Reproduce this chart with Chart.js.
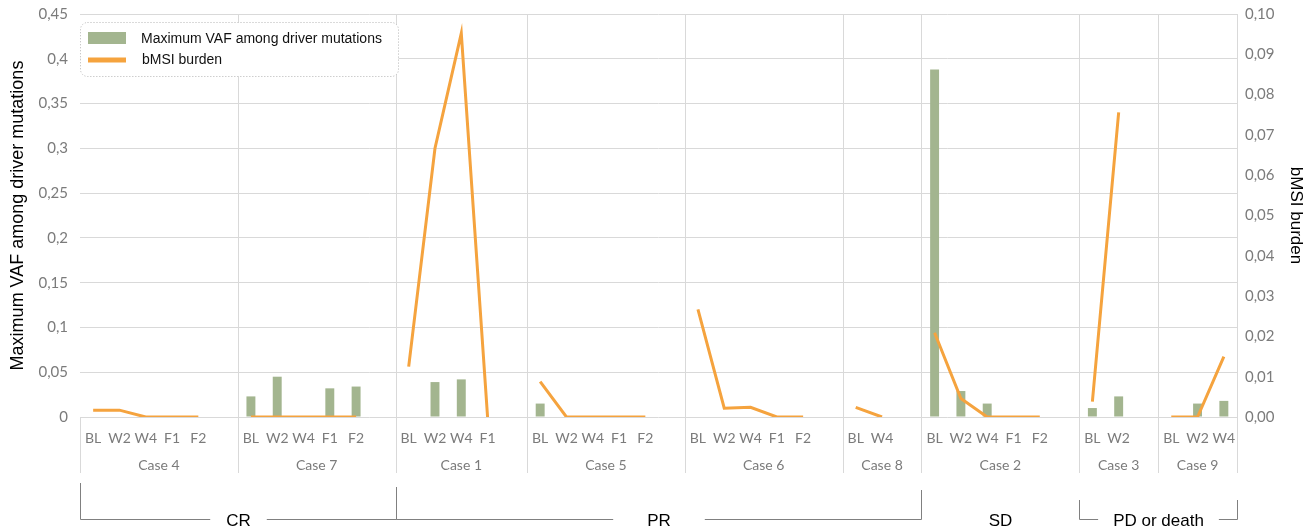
<!DOCTYPE html>
<html>
<head>
<meta charset="utf-8">
<script src="https://cdn.jsdelivr.net/npm/chart.js@4.4.1/dist/chart.umd.min.js"></script>
<style>
  html, body { margin: 0; padding: 0; background: #fff; }
  #wrap { width: 1311px; height: 528px; }
</style>
</head>
<body>
<div id="wrap"><canvas id="chart"></canvas></div>
<script>
// timepoint labels, one empty slot after each case (like the excel sheet)
const labels = [
  'BL','W2','W4','F1','F2','',
  'BL','W2','W4','F1','F2','',
  'BL','W2','W4','F1','',
  'BL','W2','W4','F1','F2','',
  'BL','W2','W4','F1','F2','',
  'BL','W4','',
  'BL','W2','W4','F1','F2','',
  'BL','W2','',
  'BL','W2','W4'
];
const caseNames = ['Case 4','Case 7','Case 1','Case 5','Case 6','Case 8','Case 2','Case 3','Case 9'];
const caseSlots = [6, 6, 5, 6, 6, 3, 6, 3, 3];
const groupNames = ['CR','PR','SD','PD or death'];
const groupSlots = [12, 20, 6, 6];

// Maximum VAF among driver mutations (left axis)
const vaf = [
  0, 0, 0, 0, 0, null,
  0.023, 0.045, 0, 0.032, 0.034, null,
  0, 0.039, 0.042, 0, null,
  0.015, 0, 0, 0, 0, null,
  0, 0, 0, 0, 0, null,
  0, 0, null,
  0.388, 0.029, 0.015, 0, 0, null,
  0.010, 0.023, null,
  0, 0.015, 0.018
];
// bMSI burden (right axis)
const bmsi = [
  0.0017, 0.0017, 0, 0, 0, null,
  0, 0, 0, 0, 0, null,
  0.0125, 0.0667, 0.0952, 0, null,
  0.0088, 0, 0, 0, 0, null,
  0.0267, 0.0022, 0.0024, 0, 0, null,
  0.0024, 0, null,
  0.0209, 0.0046, 0, 0, 0, null,
  0.0038, 0.0756, null,
  0, 0, 0.015
];

const GREEN = '#a3b58f';
const ORANGE = '#f5a33e';
const TICK_FONT = 'Lato';
const TITLE_FONT = 'Liberation Sans';

const extras = {
  id: 'extras',
  beforeDatasetsDraw(chart) {
    const ctx = chart.ctx;
    const xs = chart.scales.x;
    const area = chart.chartArea;
    const w = xs.width / labels.length;
    ctx.save();
    ctx.strokeStyle = '#d9d9d9';
    ctx.lineWidth = 1;
    let k = 0;
    for (let i = 0; i <= caseSlots.length; i++) {
      const x = Math.round(xs.left + k * w) + 0.5;
      ctx.beginPath();
      ctx.moveTo(x, i === 0 ? area.bottom : area.top);
      ctx.lineTo(x, 473);
      ctx.stroke();
      if (i < caseSlots.length) k += caseSlots[i];
    }
    ctx.restore();
  },
  afterDraw(chart) {
    const ctx = chart.ctx;
    const xs = chart.scales.x;
    const w = xs.width / labels.length;
    ctx.save();

    // case names
    ctx.font = '14px ' + TICK_FONT;
    ctx.fillStyle = '#7b7b7b';
    ctx.textAlign = 'center';
    ctx.textBaseline = 'middle';
    let k = 0;
    caseNames.forEach((name, i) => {
      const x0 = xs.left + k * w;
      const x1 = x0 + caseSlots[i] * w;
      ctx.fillText(name, (x0 + x1) / 2, 465);
      k += caseSlots[i];
    });

    // response groups with brackets
    const y = 519.5;
    const gaps = [16, 34, 0, 15];
    const tops = [[483, 487], [487, 490], null, [500, 500]];
    ctx.font = '17px ' + TITLE_FONT;
    ctx.strokeStyle = '#808080';
    ctx.lineWidth = 1;
    k = 0;
    groupNames.forEach((name, i) => {
      const x0 = Math.round(xs.left + k * w) + 0.5;
      const x1 = Math.round(xs.left + (k + groupSlots[i]) * w) + 0.5;
      const cx = (x0 + x1) / 2;
      ctx.fillStyle = '#000';
      ctx.fillText(name, cx, 521);
      if (tops[i]) {
        const tw = ctx.measureText(name).width / 2 + gaps[i];
        ctx.beginPath();
        ctx.moveTo(x0, tops[i][0]);
        ctx.lineTo(x0, y);
        ctx.lineTo(cx - tw, y);
        ctx.moveTo(cx + tw, y);
        ctx.lineTo(x1, y);
        ctx.lineTo(x1, tops[i][1]);
        ctx.stroke();
      }
      k += groupSlots[i];
    });

    // legend box
    const lx = 80.5, ly = 22.5, lw = 318, lh = 54, r = 7;
    ctx.beginPath();
    ctx.roundRect(lx, ly, lw, lh, r);
    ctx.fillStyle = '#fff';
    ctx.fill();
    ctx.setLineDash([1, 2]);
    ctx.strokeStyle = '#b5b5b5';
    ctx.stroke();
    ctx.setLineDash([]);

    const ds = chart.data.datasets;
    const bar = ds.find(d => d.type === 'bar');
    const line = ds.find(d => d.type === 'line');
    ctx.fillStyle = bar.backgroundColor;
    ctx.fillRect(88, 32, 38, 12);
    ctx.strokeStyle = line.borderColor;
    ctx.lineWidth = 5;
    ctx.beginPath();
    ctx.moveTo(88, 60);
    ctx.lineTo(126, 60);
    ctx.stroke();
    ctx.font = '14px ' + TITLE_FONT;
    ctx.fillStyle = '#111';
    ctx.textAlign = 'left';
    ctx.fillText(bar.label, 141, 39);
    ctx.fillText(line.label, 142, 60);
    ctx.restore();
  }
};

const commaFmt = (v, d) => {
  const s = d ? v.toFixed(d) : String(Math.round(v * 100) / 100);
  return s.replace('.', ',');
};

new Chart(document.getElementById('chart'), {
  data: {
    labels: labels,
    datasets: [
      {
        type: 'line',
        label: 'bMSI burden',
        data: bmsi,
        yAxisID: 'y1',
        borderColor: ORANGE,
        backgroundColor: ORANGE,
        borderWidth: 3,
        pointRadius: 0,
        spanGaps: false,
        order: 0
      },
      {
        type: 'bar',
        label: 'Maximum VAF among driver mutations',
        data: vaf,
        yAxisID: 'y',
        backgroundColor: GREEN,
        categoryPercentage: 1,
        barPercentage: 0.34,
        order: 1
      }
    ]
  },
  options: {
    responsive: true,
    maintainAspectRatio: false,
    animation: false,
    layout: { padding: { top: 14, left: 0, right: 0, bottom: 0 } },
    plugins: { legend: { display: false }, tooltip: { enabled: false } },
    scales: {
      x: {
        grid: { display: false },
        border: { display: false },
        ticks: {
          autoSkip: false, maxRotation: 0, padding: 5,
          color: '#7b7b7b', font: { family: TICK_FONT, size: 14 }
        },
        afterFit(s) { s.height = 111; s.paddingLeft = 0; s.paddingRight = 0; }
      },
      y: {
        position: 'left',
        min: 0, max: 0.45,
        border: { display: false },
        grid: { color: '#d9d9d9', drawTicks: false },
        ticks: {
          stepSize: 0.05, padding: 12,
          color: '#7b7b7b', font: { family: TICK_FONT, size: 15 },
          callback: v => commaFmt(v, 0)
        },
        title: {
          display: true, text: 'Maximum VAF among driver mutations',
          color: '#000', font: { family: TITLE_FONT, size: 18 }, padding: { top: 7, bottom: 0 }
        },
        afterFit(s) { s.width = 80; s.paddingTop = 0; s.paddingBottom = 0; }
      },
      y1: {
        position: 'right',
        min: 0, max: 0.1,
        border: { display: false },
        grid: { drawOnChartArea: false, drawTicks: false },
        ticks: {
          stepSize: 0.01, padding: 8,
          color: '#7b7b7b', font: { family: TICK_FONT, size: 15 },
          callback: v => commaFmt(v, 2)
        },
        title: {
          display: true, text: 'bMSI burden',
          color: '#000', font: { family: TITLE_FONT, size: 17 }, padding: { top: 5, bottom: 0 }
        },
        afterFit(s) { s.width = 74; s.paddingTop = 0; s.paddingBottom = 0; }
      }
    }
  },
  plugins: [extras]
});
</script>
</body>
</html>
